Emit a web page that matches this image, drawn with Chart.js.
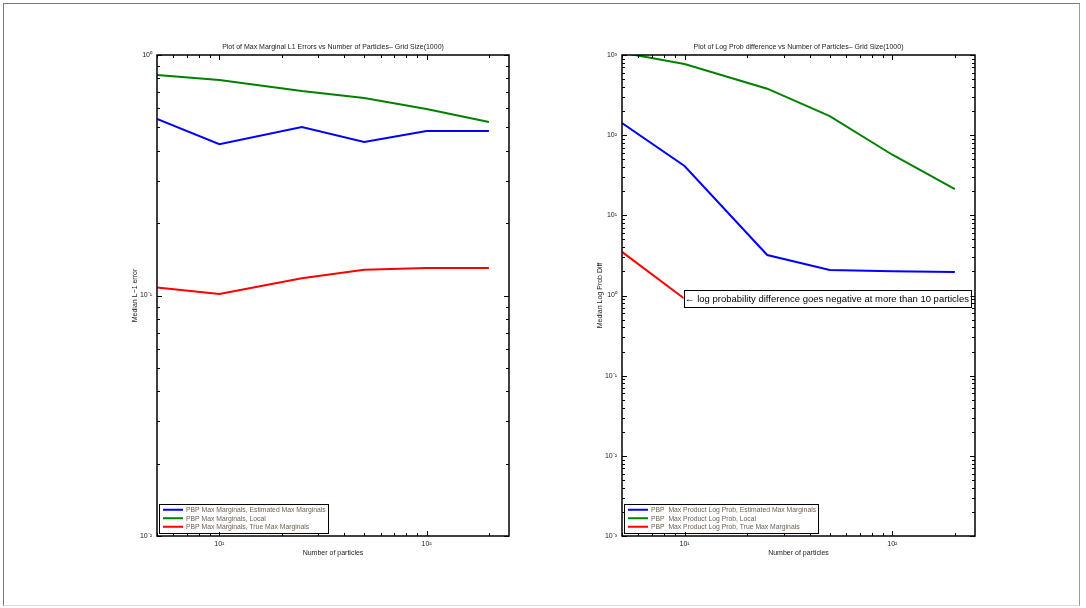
<!DOCTYPE html>
<html>
<head>
<meta charset="utf-8">
<script src="https://cdn.jsdelivr.net/npm/chart.js@4/dist/chart.umd.min.js"></script>
<style>
  html, body { margin: 0; padding: 0; background: #fff; width: 1086px; height: 608px; overflow: hidden; }
  #frame { position: absolute; left: 3px; top: 3px; width: 1077px; height: 603px;
           border-top: 1px solid #7a7a7a; border-left: 1px solid #7a7a7a;
           border-right: 1px solid #9a9a9a; border-bottom: 1px solid #dddddd; box-sizing: border-box; }
  .wrap { position: absolute; top: 0; width: 543px; height: 608px; }
  #w1 { left: 0; } #w2 { left: 543px; }
</style>
</head>
<body>
<div id="frame"></div>
<div class="wrap" id="w1"><canvas id="c1" width="543" height="608"></canvas></div>
<div class="wrap" id="w2"><canvas id="c2" width="543" height="608"></canvas></div>
<script>
// ---------- data ----------
const particles = [5, 10, 25, 50, 100, 200];

const l1Estimated = [0.542, 0.426, 0.502, 0.435, 0.483, 0.483];
const l1Local     = [0.826, 0.787, 0.708, 0.663, 0.596, 0.527];
const l1True      = [0.108, 0.1015, 0.118, 0.128, 0.130, 0.130];

const lpEstimated = [142, 41.3, 3.2, 2.08, 2.0, 1.96];
const lpLocal     = [1070, 773, 380, 173, 57, 21.3];
const lpTrue      = [3.5, 0.91, null, null, null, null];

const xTickValues = [10, 100];
const yTickValuesLeft = [0.01, 0.1, 1];
const yTickValuesRight = [0.001, 0.01, 0.1, 1, 10, 100, 1000];

const leftTitle = 'Plot of Max Marginal L1 Errors vs Number of Particles\u2013 Grid Size(1000)';
const rightTitle = 'Plot of Log Prob difference vs Number of Particles\u2013 Grid Size(1000)';
const leftYLabel = 'Median L\u22121 error';
const rightYLabel = 'Median Log Prob Diff';
const xLabel = 'Number of particles';

const leftLegend = ['PBP Max Marginals, Estimated Max Marginals', 'PBP Max Marginals, Local', 'PBP Max Marginals, True Max Marginals'];
const rightLegend = ['PBP  Max Product Log Prob, Estimated Max Marginals', 'PBP  Max Product Log Prob, Local', 'PBP  Max Product Log Prob, True Max Marginals'];
const annotationText = '\u2190 log probability difference goes negative at more than 10 particles';

// ---------- helpers ----------
const FONT = "'Liberation Sans', Arial, Helvetica, sans-serif";
const SUP = {'0':'\u2070','1':'\u00b9','2':'\u00b2','3':'\u00b3','-':'\u207b'};
function powLabel(v) {
  const e = Math.round(Math.log10(v));
  return '10' + String(e).split('').map(c => SUP[c]).join('');
}
function pts(arr) { return particles.map((x, i) => ({x: x, y: arr[i]})); }

const colors = ['#0000ff', '#008000', '#ff0000'];

// box + inward ticks (MATLAB style)
const boxTicks = {
  id: 'boxTicks',
  afterDraw(chart) {
    const {ctx, chartArea: a, scales} = chart;
    ctx.save();
    ctx.strokeStyle = '#000';
    ctx.lineWidth = 1;
    const drawAxisTicks = (scale, horizontal) => {
      const lo = Math.floor(Math.log10(scale.min)), hi = Math.ceil(Math.log10(scale.max));
      for (let e = lo; e <= hi; e++) {
        for (let m = 1; m <= 9; m++) {
          const v = m * Math.pow(10, e);
          if (v < scale.min * 0.999 || v > scale.max * 1.001) continue;
          const p = Math.round(scale.getPixelForValue(v)) + 0.5;
          const len = m === 1 ? 5 : 3;
          ctx.beginPath();
          if (horizontal) {
            ctx.moveTo(p, a.bottom); ctx.lineTo(p, a.bottom - len);
            ctx.moveTo(p, a.top); ctx.lineTo(p, a.top + len);
          } else {
            ctx.moveTo(a.left, p); ctx.lineTo(a.left + len, p);
            ctx.moveTo(a.right, p); ctx.lineTo(a.right - len, p);
          }
          ctx.stroke();
        }
      }
    };
    drawAxisTicks(scales.x, true);
    drawAxisTicks(scales.y, false);
    ctx.lineWidth = 1.5;
    ctx.strokeRect(Math.round(a.left), Math.round(a.top), Math.round(a.right - a.left), Math.round(a.bottom - a.top));
    ctx.restore();
  }
};

// in-axes legend (lower left, boxed)
const boxLegend = {
  id: 'boxLegend',
  afterDraw(chart) {
    const {ctx, chartArea: a} = chart;
    const ds = chart.data.datasets;
    ctx.save();
    ctx.font = '6.8px ' + FONT;
    let maxW = 0;
    ds.forEach(d => { maxW = Math.max(maxW, ctx.measureText(d.label).width); });
    const rowH = 8.5, x0 = a.left + 2, lineW = 20;
    const w = 4 + lineW + 3 + maxW + 2;
    const h = rowH * ds.length + 3;
    const y0 = a.bottom - 4 - h;
    ctx.fillStyle = '#fff';
    ctx.fillRect(x0, y0, w, h);
    ctx.strokeStyle = '#000'; ctx.lineWidth = 1;
    ctx.strokeRect(Math.round(x0) + 0.5, Math.round(y0) + 0.5, Math.round(w), Math.round(h));
    ds.forEach((d, i) => {
      const cy = y0 + 2 + rowH * i + rowH / 2;
      ctx.strokeStyle = d.borderColor; ctx.lineWidth = 2;
      ctx.beginPath(); ctx.moveTo(x0 + 4, cy); ctx.lineTo(x0 + 4 + lineW, cy); ctx.stroke();
      ctx.fillStyle = '#6e5f50'; ctx.textBaseline = 'middle'; ctx.textAlign = 'left';
      ctx.fillText(d.label, x0 + 4 + lineW + 3, cy + 0.5);
    });
    ctx.restore();
  }
};

// text annotation anchored to a data point
const annotate = {
  id: 'annotate',
  afterDraw(chart, args, opts) {
    if (!opts || !opts.text) return;
    const {ctx, scales} = chart;
    const px = scales.x.getPixelForValue(opts.x) - 1;
    const py = scales.y.getPixelForValue(opts.y);
    ctx.save();
    ctx.font = opts.size + 'px ' + FONT;
    const tw = ctx.measureText(opts.text).width;
    const h = 17, w = tw + 3;
    ctx.fillStyle = '#fff';
    ctx.fillRect(px, py - h / 2, w, h);
    ctx.strokeStyle = '#000'; ctx.lineWidth = 1;
    ctx.strokeRect(Math.round(px) + 0.5, Math.round(py - h / 2) + 0.5, Math.round(w), h);
    ctx.fillStyle = '#000'; ctx.textBaseline = 'middle'; ctx.textAlign = 'left';
    ctx.fillText(opts.text, px + 1.5, py + 1);
    ctx.restore();
  }
};

function makeChart(id, cfg) {
  const datasets = cfg.series.map((s, i) => ({
    label: cfg.legend[i], data: pts(s), borderColor: colors[i], backgroundColor: colors[i],
    borderWidth: 2, pointRadius: 0, tension: 0, fill: false, spanGaps: false
  }));
  return new Chart(document.getElementById(id), {
    type: 'line',
    data: { datasets },
    options: {
      responsive: false, animation: false,
      layout: { padding: { left: cfg.padLeft, right: cfg.padRight, top: 0, bottom: 0 } },
      plugins: {
        legend: { display: false },
        tooltip: { enabled: false },
        title: { display: true, text: cfg.title, fullSize: false, color: '#222',
                 font: { family: FONT, size: 7, weight: 'normal' }, padding: { top: 43, bottom: 3.6 } },
        annotate: cfg.annotation || {}
      },
      scales: {
        x: {
          type: 'logarithmic', min: 5, max: 250,
          afterBuildTicks: s => { s.ticks = xTickValues.map(v => ({value: v})); },
          afterFit: s => { s.height = 72; },
          grid: { display: false, drawTicks: false }, border: { display: false },
          ticks: { callback: v => powLabel(v), color: '#222', padding: 4, maxRotation: 0, autoSkip: false,
                   font: { family: FONT, size: 7 } },
          title: { display: true, text: xLabel, color: '#222', font: { family: FONT, size: 7 },
                   padding: { top: 0, bottom: 50.8 } }
        },
        y: {
          type: 'logarithmic', min: cfg.yMin, max: cfg.yMax,
          afterBuildTicks: s => { s.ticks = cfg.yTicks.map(v => ({value: v})); },
          afterFit: s => { s.width = cfg.yWidth; },
          grid: { display: false, drawTicks: false }, border: { display: false },
          ticks: { callback: v => powLabel(v), color: '#222', padding: 5, autoSkip: false,
                   font: { family: FONT, size: 7 } },
          title: { display: true, text: cfg.yLabel, color: '#222', font: { family: FONT, size: 7 },
                   padding: { top: cfg.yTitlePad, bottom: 0 } }
        }
      }
    },
    plugins: [boxTicks, boxLegend, annotate]
  });
}

makeChart('c1', {
  series: [l1Estimated, l1Local, l1True], legend: leftLegend, title: leftTitle,
  yLabel: leftYLabel, yMin: 0.01, yMax: 1, yTicks: yTickValuesLeft,
  padLeft: 120, padRight: 34, yWidth: 37, yTitlePad: 10.8
});

makeChart('c2', {
  series: [lpEstimated, lpLocal, lpTrue], legend: rightLegend, title: rightTitle,
  yLabel: rightYLabel, yMin: 0.001, yMax: 1000, yTicks: yTickValuesRight,
  padLeft: 45, padRight: 111, yWidth: 34, yTitlePad: 7.8,
  annotation: { x: particles[1], y: lpTrue[1], text: annotationText, size: 9.5 }
});
</script>
</body>
</html>
